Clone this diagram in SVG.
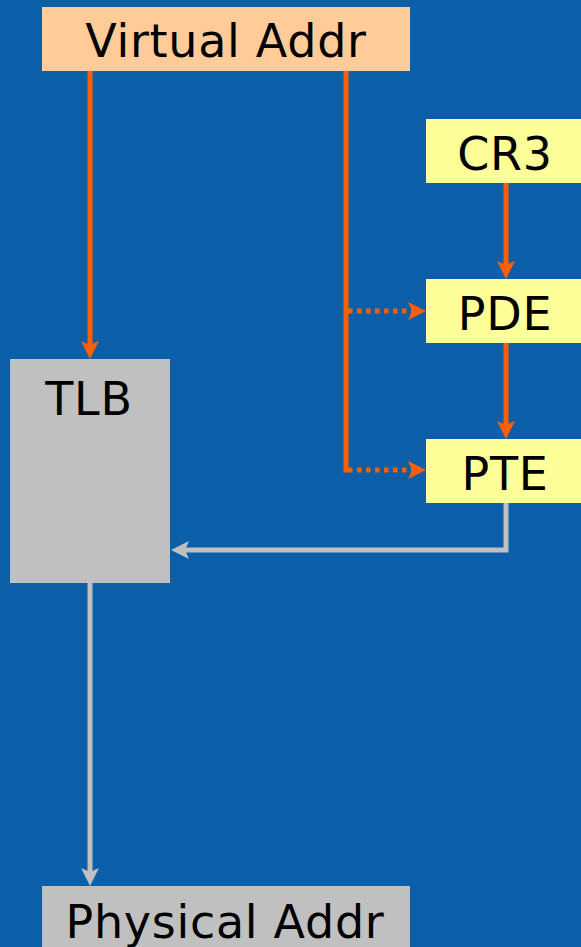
<svg xmlns="http://www.w3.org/2000/svg" width="581" height="947" viewBox="0 0 581 947">
  <style>
    .lbl { font-family: "DejaVu Sans", "Liberation Sans", sans-serif; font-size: 46px; fill: #000; text-anchor: middle; letter-spacing: 0.7px; }
    .or { stroke: #FF5F00; stroke-width: 5; fill: none; }
    .gr { stroke: #C0C0C0; stroke-width: 5; fill: none; }
    .dot { stroke-dasharray: 4.5 4.5; }
  </style>
  <defs>
    <marker id="ahO" markerUnits="userSpaceOnUse" markerWidth="20" markerHeight="20" refX="4" refY="9" orient="auto">
      <path d="M0,0 L18,9 L0,18 L4,9 z" fill="#FF5F00"/>
    </marker>
    <marker id="ahG" markerUnits="userSpaceOnUse" markerWidth="20" markerHeight="20" refX="4" refY="9" orient="auto">
      <path d="M0,0 L18,9 L0,18 L4,9 z" fill="#C0C0C0"/>
    </marker>
  </defs>
  <rect width="581" height="947" fill="#0B5FA8"/>

  <g id="connectors">
    <path class="or" d="M90,71 V345" marker-end="url(#ahO)"/>
    <path class="or" d="M346,71 V472.5"/>
    <path class="or dot" d="M348,311 H412" marker-end="url(#ahO)"/>
    <path class="or dot" d="M348,470 H412" marker-end="url(#ahO)"/>
    <path class="or" d="M506,183 V265" marker-end="url(#ahO)"/>
    <path class="or" d="M506,343 V425" marker-end="url(#ahO)"/>
    <path class="gr" d="M506,503 V550 H185" marker-end="url(#ahG)"/>
    <path class="gr" d="M90,583 V872" marker-end="url(#ahG)"/>
  </g>

  <g id="virtual-addr">
    <rect x="42" y="7" width="368" height="64" fill="#FFCC99"/>
    <text class="lbl" x="226" y="57">Virtual Addr</text>
  </g>
  <g id="cr3">
    <rect x="426" y="119" width="155" height="64" fill="#FFFF99"/>
    <text class="lbl" x="505" y="170">CR3</text>
  </g>
  <g id="pde">
    <rect x="426" y="279" width="155" height="64" fill="#FFFF99"/>
    <text class="lbl" x="505" y="330">PDE</text>
  </g>
  <g id="pte">
    <rect x="426" y="439" width="155" height="64" fill="#FFFF99"/>
    <text class="lbl" x="505" y="490">PTE</text>
  </g>
  <g id="tlb">
    <rect x="10" y="359" width="160" height="224" fill="#C0C0C0"/>
    <text class="lbl" x="89" y="415">TLB</text>
  </g>
  <g id="physical-addr">
    <rect x="42" y="886" width="368" height="70" fill="#C0C0C0"/>
    <text class="lbl" x="225" y="938">Physical Addr</text>
  </g>
</svg>
